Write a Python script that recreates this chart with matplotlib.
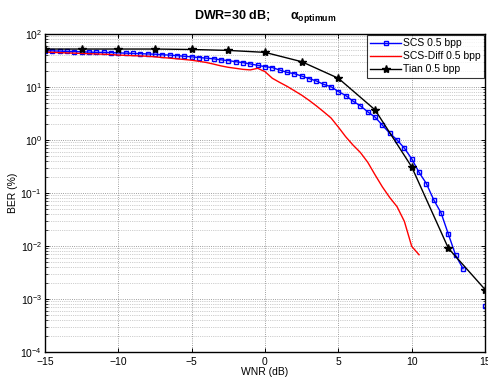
import numpy as np
import matplotlib
matplotlib.use('Agg')
import matplotlib.pyplot as plt
from matplotlib.ticker import LogLocator, FixedLocator, NullFormatter

plt.rcParams['font.family'] = ['Liberation Sans', 'DejaVu Sans']
plt.rcParams['mathtext.fontset'] = 'custom'
plt.rcParams['mathtext.rm'] = 'Liberation Sans'
plt.rcParams['mathtext.bf'] = 'Liberation Sans:bold'
plt.rcParams['mathtext.it'] = 'Liberation Sans:italic'

nan = np.nan

# SCS 0.5 bpp, every 0.5 dB (BER = 0 at 14 and 14.5 -> not drawn on log axis)
scs_wnr = [-15, -14.5, -14, -13.5, -13, -12.5, -12, -11.5, -11, -10.5,
           -10, -9.5, -9, -8.5, -8, -7.5, -7, -6.5, -6, -5.5,
           -5, -4.5, -4, -3.5, -3, -2.5, -2, -1.5, -1, -0.5,
           0, 0.5, 1, 1.5, 2, 2.5, 3, 3.5, 4, 4.5,
           5, 5.5, 6, 6.5, 7, 7.5, 8, 8.5, 9, 9.5,
           10, 10.5, 11, 11.5, 12, 12.5, 13, 13.5, 14, 14.5, 15]
scs_ber = [48.5, 48, 47.5, 47, 46.5, 46, 45.5, 45, 45, 44.5,
           44, 43.5, 43, 42.5, 42, 41.5, 40.5, 40, 39, 38,
           37, 36, 35, 34, 32.5, 31.5, 30, 28.8, 27.2, 25.6,
           24.2, 23.2, 20.9, 18.9, 17.8, 16.1, 14.4, 13, 11.2, 10.1,
           8.2, 6.9, 5.4, 4.4, 3.4, 2.7, 1.9, 1.34, 1.0, 0.7,
           0.44, 0.245, 0.15, 0.074, 0.042, 0.0166, 0.0066, 0.0037, nan, nan, 0.00074]

# SCS-Diff 0.5 bpp
diff_wnr = [-15, -14.5, -14, -13.5, -13, -12.5, -12, -11.5, -11, -10.5,
            -10, -9.5, -9, -8.5, -8, -7.5, -7, -6.5, -6, -5.5,
            -5, -4.5, -4, -3.5, -3, -2.5, -2, -1.5, -1, -0.5,
            0, 0.5, 1, 1.5, 2, 2.5, 3, 3.5, 4, 4.5,
            5, 5.5, 6, 6.5, 7, 7.5, 8, 8.5, 9, 9.5, 10, 10.5]
diff_ber = [45.5, 45, 44.5, 44, 43.5, 43, 42.5, 42, 41.5, 41,
            40, 39.5, 39, 38.5, 38, 37, 36, 35, 34, 33,
            32, 30.5, 29, 27, 25, 23.5, 22.5, 21.5, 21, 22.5,
            19.5, 14.6, 12.2, 10.3, 8.5, 7, 5.6, 4.4, 3.4, 2.6,
            1.75, 1.15, 0.8, 0.58, 0.38, 0.22, 0.13, 0.082, 0.055, 0.029, 0.0098, 0.0068]

# Tian 0.5 bpp, every 2.5 dB
tian_wnr = [-15, -12.5, -10, -7.5, -5, -2.5, 0, 2.5, 5, 7.5, 10, 12.5, 15]
tian_ber = [52, 52, 52, 52, 51, 49, 45, 30, 14.6, 3.7, 0.31, 0.009, 0.0015]

fig = plt.figure(figsize=(4.88, 3.82), dpi=100)
ax = fig.add_axes([0.092, 0.079, 0.902, 0.832])

ax.plot(scs_wnr, scs_ber, color='#0000ff', lw=1.0, marker='s', ms=3.4,
        mfc='none', mec='#0000ff', mew=1.0, label='SCS 0.5 bpp')
ax.plot(diff_wnr, diff_ber, color='#ff0000', lw=1.0, label='SCS-Diff 0.5 bpp')
ax.plot(tian_wnr, tian_ber, color='black', lw=1.0, marker='*', ms=6,
        mfc='black', mec='black', label='Tian 0.5 bpp')

ax.set_yscale('log')
ax.set_xlim(-15, 15)
ax.set_ylim(1e-4, 1e2)
ax.xaxis.set_major_locator(FixedLocator([-15, -10, -5, 0, 5, 10, 15]))
ax.yaxis.set_major_locator(LogLocator(base=10, numticks=10))
ax.yaxis.set_minor_locator(LogLocator(base=10, subs=np.arange(2, 10), numticks=20))
ax.yaxis.set_minor_formatter(NullFormatter())

ax.grid(True, which='major', linestyle=':', color='#808080', lw=0.6)
ax.grid(True, which='minor', axis='y', linestyle=':', color='#a0a0a0', lw=0.5)

ax.tick_params(which='both', direction='in', top=True, right=True, labelsize=7.5)
ax.tick_params(axis='x', pad=4)
ax.tick_params(axis='y', pad=2)
ax.tick_params(which='major', length=3, width=0.7)
ax.tick_params(which='minor', length=1.8, width=0.5)
for s in ax.spines.values():
    s.set_linewidth(1.0)

ax.set_xlabel('WNR (dB)', fontsize=7.5, labelpad=0)
ax.set_ylabel('BER (%)', fontsize=7.5, labelpad=2)
ax.set_title(r'DWR=30 dB;      $\mathbf{\alpha_{optimum}}$', fontsize=9,
             fontweight='bold', pad=11)

leg = ax.legend(loc='upper right', fontsize=7.5, frameon=True, fancybox=False,
                borderpad=0.3, labelspacing=0.3, handlelength=3.0,
                handletextpad=0.2, borderaxespad=0.1)
leg.get_frame().set_edgecolor('black')
leg.get_frame().set_linewidth(0.8)

fig.savefig('out.png', dpi=100)
